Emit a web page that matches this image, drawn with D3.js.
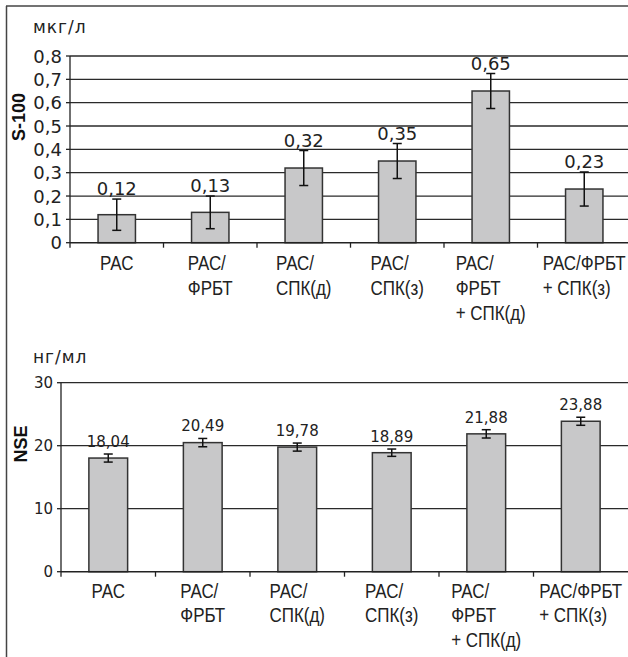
<!DOCTYPE html>
<html>
<head>
<meta charset="utf-8">
<style>
body { margin: 0; background: #fff; }
svg { display: block; }
.grid line { stroke: #2a2a2a; stroke-width: 1.3px; }
.bar { fill: #c8c8c9; stroke: #333; stroke-width: 1.5px; }
.err { stroke: #111; stroke-width: 1.5px; fill: none; }
.val { font-family: "DejaVu Sans", sans-serif; fill: #222; }
.cat { font-family: "Liberation Sans Narrow", "Liberation Sans", Arial, sans-serif; font-size: 20px; fill: #222; }
.ytick { font-family: "DejaVu Sans", sans-serif; fill: #222; }
.unit { font-family: "DejaVu Sans", sans-serif; font-size: 17px; letter-spacing: 1px; fill: #222; }
.ttl { font-family: "Liberation Sans", Arial, sans-serif; font-weight: bold; font-size: 18px; fill: #111; }
</style>
</head>
<body>
<svg width="628" height="657"></svg>
<script src="https://cdn.jsdelivr.net/npm/d3@7"></script>
<script>
var categories = [
  ["РАС"],
  ["РАС/", "ФРБТ"],
  ["РАС/", "СПК(д)"],
  ["РАС/", "СПК(з)"],
  ["РАС/", "ФРБТ", "+ СПК(д)"],
  ["РАС/ФРБТ", "+ СПК(з)"]
];

var s100Values = [0.12, 0.13, 0.32, 0.35, 0.65, 0.23];
var s100Errors = [0.067, 0.07, 0.075, 0.075, 0.075, 0.073];
var s100Labels = ["0,12", "0,13", "0,32", "0,35", "0,65", "0,23"];
var s100Ticks = [0, 0.1, 0.2, 0.3, 0.4, 0.5, 0.6, 0.7, 0.8];

var nseValues = [18.04, 20.49, 19.78, 18.89, 21.88, 23.88];
var nseErrors = [0.64, 0.66, 0.64, 0.58, 0.66, 0.64];
var nseLabels = ["18,04", "20,49", "19,78", "18,89", "21,88", "23,88"];
var nseTicks = [0, 10, 20, 30];

var svg = d3.select("svg");

// outer frame (left and top edges only visible)
svg.append("line").attr("x1", 6.5).attr("y1", 6).attr("x2", 6.5).attr("y2", 657)
    .attr("stroke", "#444").attr("stroke-width", 1.5);
svg.append("line").attr("x1", 6).attr("y1", 6).attr("x2", 628).attr("y2", 6)
    .attr("stroke", "#444").attr("stroke-width", 1.5);

function drawChart(opt) {
  var idx = d3.range(categories.length);
  var x = d3.scaleBand().domain(idx).range([opt.x0, opt.x1])
      .paddingInner(opt.pad).paddingOuter(opt.pad / 2);
  var y = d3.scaleLinear().domain([0, d3.max(opt.ticks)]).range([opt.yBottom, opt.yTop]);

  var g = svg.append("g");

  // gridlines
  g.append("g").attr("class", "grid")
    .selectAll("line")
    .data(opt.ticks.filter(function(t) { return t > 0; }))
    .enter().append("line")
      .attr("x1", opt.x0).attr("x2", 628)
      .attr("y1", function(d) { return y(d); })
      .attr("y2", function(d) { return y(d); });

  // bars
  g.selectAll(".bar")
    .data(opt.values)
    .enter().append("rect")
      .attr("class", "bar")
      .attr("x", function(d, i) { return x(i); })
      .attr("width", x.bandwidth())
      .attr("y", function(d) { return y(d); })
      .attr("height", function(d) { return y(0) - y(d); });

  // error bars
  var eb = g.selectAll(".eb")
    .data(opt.values)
    .enter().append("g").attr("class", "err");
  function cx(i) { return x(i) + x.bandwidth() / 2; }
  eb.append("line")
      .attr("x1", function(d, i) { return cx(i); })
      .attr("x2", function(d, i) { return cx(i); })
      .attr("y1", function(d, i) { return y(d + opt.errors[i]); })
      .attr("y2", function(d, i) { return y(d - opt.errors[i]); });
  [1, -1].forEach(function(s) {
    eb.append("line")
        .attr("x1", function(d, i) { return cx(i) - 4.5; })
        .attr("x2", function(d, i) { return cx(i) + 4.5; })
        .attr("y1", function(d, i) { return y(d + s * opt.errors[i]); })
        .attr("y2", function(d, i) { return y(d + s * opt.errors[i]); });
  });

  // value labels
  g.selectAll(".val")
    .data(opt.values)
    .enter().append("text")
      .attr("class", "val")
      .style("font-size", opt.valSize + "px")
      .attr("text-anchor", "middle")
      .attr("x", function(d, i) { return cx(i); })
      .attr("y", function(d, i) { return y(d + opt.errors[i]) - opt.valGap; })
      .text(function(d, i) { return opt.labels[i]; });

  // axes
  var axisColor = "#222";
  g.append("line").attr("x1", opt.x0).attr("x2", 628)
      .attr("y1", y(0)).attr("y2", y(0))
      .attr("stroke", axisColor).attr("stroke-width", 1.5);
  g.append("line").attr("x1", opt.x0).attr("x2", opt.x0)
      .attr("y1", y(0)).attr("y2", opt.yTop)
      .attr("stroke", axisColor).attr("stroke-width", 1.3);

  // x ticks at category boundaries
  g.selectAll(".xt")
    .data(idx)
    .enter().append("line")
      .attr("x1", function(i) { return x(i) - x.step() * opt.pad / 2; })
      .attr("x2", function(i) { return x(i) - x.step() * opt.pad / 2; })
      .attr("y1", y(0)).attr("y2", y(0) + 5)
      .attr("stroke", axisColor).attr("stroke-width", 1.3);

  // y ticks and labels
  g.selectAll(".yt")
    .data(opt.ticks)
    .enter().append("line")
      .attr("x1", opt.x0 - 4).attr("x2", opt.x0)
      .attr("y1", function(d) { return y(d); })
      .attr("y2", function(d) { return y(d); })
      .attr("stroke", axisColor).attr("stroke-width", 1.3);
  g.selectAll(".ytick")
    .data(opt.ticks)
    .enter().append("text")
      .attr("class", "ytick")
      .style("font-size", opt.tickSize + "px")
      .attr("text-anchor", "end")
      .attr("dominant-baseline", "central")
      .attr("x", opt.tickX)
      .attr("y", function(d) { return y(d); })
      .text(function(d) { return String(d).replace(".", ","); });

  // category labels (left-aligned lines, block centred in slot)
  var cg = g.selectAll(".catg")
    .data(categories)
    .enter().append("g");
  cg.each(function(lines, i) {
    var el = d3.select(this);
    var t = el.append("text").attr("class", "cat");
    lines.forEach(function(s, k) {
      t.append("tspan").attr("x", 0).attr("y", k * opt.lineH).text(s);
    });
    var w = t.node().getBBox().width * narrow;
    el.attr("transform", "translate(" + (cx(i) - w / 2) + "," + (y(0) + opt.firstBase) + ") scale(" + narrow + ",1)");
  });

  // unit + title
  svg.append("text").attr("class", "unit")
      .attr("x", 33).attr("y", opt.unitY).text(opt.unit);
  svg.append("text").attr("class", "ttl")
      .attr("text-anchor", "middle")
      .attr("transform", "translate(" + opt.titleX + "," + opt.titleY + ") rotate(-90)")
      .text(opt.title);
}

// measure condensed font; squeeze if the narrow face is not available
var probe = svg.append("text").attr("class", "cat").text("РАС/ФРБТ");
var narrow = Math.min(1, 83 / probe.node().getComputedTextLength());
probe.remove();

drawChart({
  values: s100Values, errors: s100Errors, labels: s100Labels, ticks: s100Ticks,
  x0: 70, x1: 631, pad: 0.6, yTop: 56, yBottom: 242.7,
  valSize: 18, valGap: 4, tickSize: 18, tickX: 62,
  firstBase: 27, lineH: 25,
  unit: "мкг/л", unitY: 33, title: "S-100", titleX: 25, titleY: 117
});

drawChart({
  values: nseValues, errors: nseErrors, labels: nseLabels, ticks: nseTicks,
  x0: 61, x1: 628, pad: 0.59, yTop: 382.7, yBottom: 571.7,
  valSize: 15, valGap: 7, tickSize: 15, tickX: 53,
  firstBase: 26, lineH: 24.5,
  unit: "нг/мл", unitY: 363, title: "NSE", titleX: 27, titleY: 444
});
</script>
</body>
</html>
